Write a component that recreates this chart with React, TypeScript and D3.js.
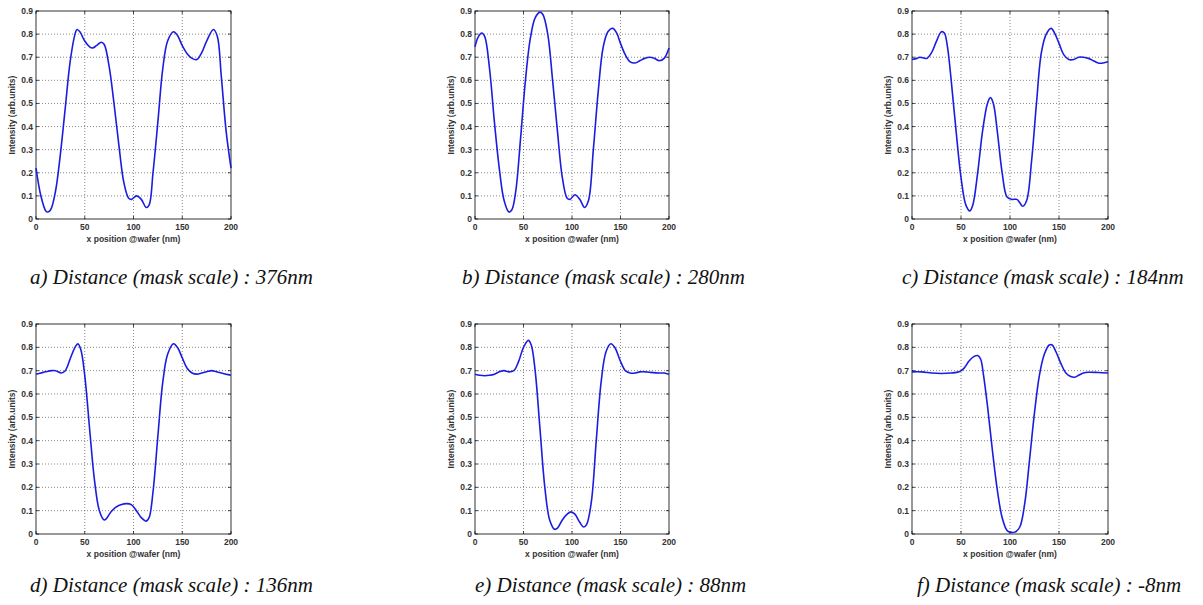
import * as d3 from "d3";

type Pt = [number, number];

const xTicks = [0, 50, 100, 150, 200];
const yTicks = [0, 0.1, 0.2, 0.3, 0.4, 0.5, 0.6, 0.7, 0.8, 0.9];

const curveA: Pt[] = [
  [0, 0.22], [5, 0.1], [10, 0.035], [12, 0.03], [15, 0.04], [20, 0.12], [25, 0.28], [30, 0.48],
  [35, 0.68], [40, 0.8], [42, 0.82], [45, 0.81], [50, 0.77], [55, 0.745], [58, 0.74], [62, 0.75],
  [67, 0.765], [70, 0.755], [75, 0.66], [80, 0.5], [85, 0.32], [90, 0.16], [95, 0.09], [98, 0.085],
  [103, 0.1], [108, 0.085], [113, 0.05], [116, 0.06], [120, 0.2], [125, 0.42], [130, 0.65], [135, 0.77],
  [141, 0.81], [145, 0.795], [150, 0.75], [155, 0.715], [160, 0.695], [165, 0.69], [170, 0.72],
  [175, 0.77], [182, 0.82], [186, 0.79], [190, 0.62], [195, 0.38], [200, 0.22],
];

const curveB: Pt[] = [
  [0, 0.745], [3, 0.785], [7, 0.805], [10, 0.79], [15, 0.65], [20, 0.42], [25, 0.22], [30, 0.08],
  [35, 0.03], [38, 0.04], [42, 0.12], [47, 0.35], [52, 0.6], [57, 0.78], [62, 0.87], [67, 0.895],
  [70, 0.885], [75, 0.8], [80, 0.6], [85, 0.38], [90, 0.18], [95, 0.09], [98, 0.085], [103, 0.105],
  [108, 0.085], [113, 0.05], [117, 0.08], [122, 0.3], [127, 0.55], [132, 0.74], [137, 0.81], [142, 0.825],
  [146, 0.805], [150, 0.76], [155, 0.71], [160, 0.68], [165, 0.675], [170, 0.685], [175, 0.695],
  [180, 0.7], [185, 0.695], [190, 0.685], [195, 0.695], [200, 0.74],
];

const curveC: Pt[] = [
  [0, 0.69], [5, 0.695], [8, 0.7], [15, 0.695], [20, 0.72], [25, 0.77], [30, 0.81], [33, 0.805],
  [36, 0.75], [40, 0.6], [45, 0.38], [50, 0.18], [55, 0.06], [59, 0.035], [62, 0.06], [67, 0.2],
  [72, 0.38], [77, 0.5], [80, 0.525], [83, 0.5], [87, 0.38], [92, 0.2], [97, 0.095], [102, 0.085],
  [107, 0.085], [110, 0.07], [113, 0.055], [117, 0.08], [122, 0.25], [127, 0.5], [132, 0.72], [137, 0.8],
  [142, 0.825], [146, 0.8], [150, 0.76], [155, 0.71], [160, 0.69], [165, 0.69], [170, 0.7], [175, 0.7],
  [180, 0.695], [185, 0.685], [190, 0.675], [195, 0.675], [200, 0.68],
];

const curveD: Pt[] = [
  [0, 0.685], [5, 0.69], [10, 0.695], [16, 0.7], [20, 0.7], [26, 0.69], [30, 0.7], [35, 0.75],
  [40, 0.8], [43, 0.815], [46, 0.79], [50, 0.68], [55, 0.45], [60, 0.23], [65, 0.1], [70, 0.06],
  [72, 0.065], [77, 0.095], [82, 0.115], [87, 0.125], [93, 0.13], [98, 0.125], [103, 0.1], [108, 0.07],
  [113, 0.055], [116, 0.07], [120, 0.18], [125, 0.42], [130, 0.65], [135, 0.77], [141, 0.815], [145, 0.8],
  [150, 0.755], [155, 0.71], [160, 0.69], [165, 0.685], [170, 0.69], [175, 0.695], [180, 0.7],
  [185, 0.695], [190, 0.69], [195, 0.685], [200, 0.68],
];

const curveE: Pt[] = [
  [0, 0.685], [5, 0.68], [10, 0.678], [15, 0.68], [20, 0.685], [25, 0.695], [30, 0.7], [35, 0.695],
  [40, 0.7], [45, 0.74], [50, 0.8], [55, 0.83], [58, 0.81], [62, 0.7], [67, 0.45], [72, 0.2],
  [77, 0.06], [82, 0.02], [85, 0.025], [90, 0.06], [95, 0.085], [99, 0.095], [103, 0.085], [108, 0.05],
  [112, 0.03], [115, 0.04], [120, 0.14], [125, 0.4], [130, 0.65], [135, 0.78], [140, 0.815], [144, 0.8],
  [150, 0.74], [155, 0.7], [160, 0.69], [165, 0.69], [170, 0.695], [175, 0.695], [180, 0.693],
  [190, 0.69], [195, 0.69], [200, 0.685],
];

const curveF: Pt[] = [
  [0, 0.695], [10, 0.695], [20, 0.69], [30, 0.688], [40, 0.69], [48, 0.695], [53, 0.71], [58, 0.74],
  [63, 0.76], [67, 0.765], [70, 0.75], [73, 0.68], [77, 0.55], [82, 0.36], [87, 0.19], [92, 0.07],
  [97, 0.015], [100, 0.008], [105, 0.008], [110, 0.03], [115, 0.13], [120, 0.32], [125, 0.52], [130, 0.68],
  [135, 0.77], [140, 0.81], [143, 0.81], [147, 0.78], [152, 0.73], [157, 0.69], [162, 0.675], [166, 0.672],
  [170, 0.68], [175, 0.69], [180, 0.693], [190, 0.692], [200, 0.69],
];

const captions = [
  "a) Distance (mask scale) : 376nm",
  "b) Distance (mask scale) : 280nm",
  "c) Distance (mask scale) : 184nm",
  "d) Distance (mask scale) : 136nm",
  "e) Distance (mask scale) : 88nm",
  "f) Distance (mask scale) : -8nm",
];

const panels = [
  { data: curveA, left: 36, right: 231, top: 11, bottom: 219, capX: 30, capY: 284 },
  { data: curveB, left: 475, right: 669, top: 11, bottom: 219, capX: 462, capY: 284 },
  { data: curveC, left: 912, right: 1108, top: 11, bottom: 219, capX: 902, capY: 284 },
  { data: curveD, left: 36, right: 231, top: 324, bottom: 534, capX: 30, capY: 592 },
  { data: curveE, left: 475, right: 669, top: 324, bottom: 534, capX: 475, capY: 592 },
  { data: curveF, left: 912, right: 1108, top: 324, bottom: 534, capX: 917, capY: 592 },
];

const tickFont = "'Liberation Sans', Arial, sans-serif";

function Panel({ p, caption }: { p: (typeof panels)[number]; caption: string }) {
  const x = d3.scaleLinear().domain([0, 200]).range([p.left, p.right]);
  const y = d3.scaleLinear().domain([0, 0.9]).range([p.bottom, p.top]);
  const line = d3
    .line<Pt>()
    .x((d) => x(d[0]))
    .y((d) => y(d[1]))
    .curve(d3.curveCatmullRom.alpha(0.5));

  return (
    <g>
      <rect x={p.left} y={p.top} width={p.right - p.left} height={p.bottom - p.top} fill="#fff" />
      {xTicks.slice(1, -1).map((t) => (
        <line key={"gx" + t} x1={x(t)} x2={x(t)} y1={p.top} y2={p.bottom}
          stroke="#555" strokeWidth={0.7} strokeDasharray="1,2" />
      ))}
      {yTicks.slice(1, -1).map((t) => (
        <line key={"gy" + t} x1={p.left} x2={p.right} y1={y(t)} y2={y(t)}
          stroke="#555" strokeWidth={0.7} strokeDasharray="1,2" />
      ))}
      {xTicks.map((t) => (
        <g key={"tx" + t}>
          <line x1={x(t)} x2={x(t)} y1={p.bottom} y2={p.bottom - 3} stroke="#000" strokeWidth={0.7} />
          <line x1={x(t)} x2={x(t)} y1={p.top} y2={p.top + 3} stroke="#000" strokeWidth={0.7} />
          <text x={x(t)} y={p.bottom + 11} textAnchor="middle" fontSize={8.5}
            fontFamily={tickFont} fontWeight="bold" fill="#333">{t}</text>
        </g>
      ))}
      {yTicks.map((t) => (
        <g key={"ty" + t}>
          <line x1={p.left} x2={p.left + 3} y1={y(t)} y2={y(t)} stroke="#000" strokeWidth={0.7} />
          <line x1={p.right} x2={p.right - 3} y1={y(t)} y2={y(t)} stroke="#000" strokeWidth={0.7} />
          <text x={p.left - 3} y={y(t) + 3} textAnchor="end" fontSize={8.5}
            fontFamily={tickFont} fontWeight="bold" fill="#333">{t === 0 ? "0" : t.toFixed(1)}</text>
        </g>
      ))}
      <rect x={p.left} y={p.top} width={p.right - p.left} height={p.bottom - p.top}
        fill="none" stroke="#000" strokeWidth={0.8} />
      <path d={line(p.data) ?? ""} fill="none" stroke="#1c1ce0" strokeWidth={1.6} />
      <text transform={`translate(${p.left - 21},${(p.top + p.bottom) / 2}) rotate(-90)`}
        textAnchor="middle" fontSize={8.5} fontFamily={tickFont} fontWeight="bold" fill="#333">
        Intensity (arb.units)
      </text>
      <text x={(p.left + p.right) / 2} y={p.bottom + 23} textAnchor="middle" fontSize={8.5}
        fontFamily={tickFont} fontWeight="bold" fill="#333">x position @wafer (nm)</text>
      <text x={p.capX} y={p.capY} fontSize={21} fontStyle="italic"
        fontFamily="'Liberation Serif', 'Times New Roman', serif" fill="#111">{caption}</text>
    </g>
  );
}

export default function App() {
  return (
    <svg width={1203} height={605} style={{ position: "absolute", left: 0, top: 0, background: "#fff" }}>
      {panels.map((p, i) => (
        <Panel key={i} p={p} caption={captions[i]} />
      ))}
    </svg>
  );
}
